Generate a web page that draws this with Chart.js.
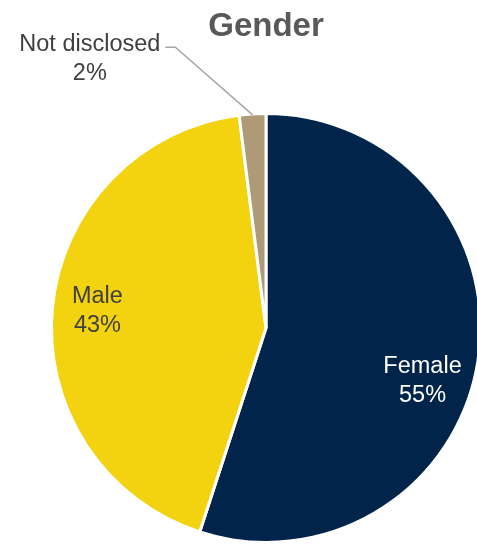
<!DOCTYPE html>
<html>
<head>
<meta charset="utf-8">
<title>Gender</title>
<script src="https://cdn.jsdelivr.net/npm/chart.js@4.4.1/dist/chart.umd.min.js"></script>
<style>
  html, body { margin: 0; padding: 0; background: #ffffff; overflow: hidden; }
  #wrap { position: absolute; left: 0; top: 0; width: 490px; height: 544px; }
</style>
</head>
<body>
<div id="wrap"><canvas id="chart"></canvas></div>
<script>
// Gender split of respondents (percent)
const chartTitle = 'Gender';
const categories = ['Female', 'Male', 'Not disclosed'];
const shares = [55, 43, 2];
const sliceColors = ['#00244A', '#F3D20F', '#AE9A76'];
const labelColors = ['#FFFFFF', '#404040', '#404040'];

// label anchor: distance as a fraction of the radius, angle nudge in degrees
const labelPlacement = [
  { dist: 0.77, turn: 9.6 },
  { dist: 0.79, turn: 0.4 },
  { dist: 1.50, turn: -29.6 }
];
const FONT = '"Liberation Sans", Arial, sans-serif';

const pieLabels = {
  id: 'pieLabels',
  afterDraw(chart) {
    const ctx = chart.ctx;
    const meta = chart.getDatasetMeta(0);
    ctx.save();

    // title
    ctx.font = 'bold 33px ' + FONT;
    ctx.fillStyle = '#595959';
    ctx.textAlign = 'center';
    ctx.textBaseline = 'middle';
    const cx0 = meta.data[0].x;
    ctx.fillText(chartTitle, cx0, 27);

    ctx.font = '23.5px ' + FONT;
    const lineGap = 29;
    meta.data.forEach((arc, i) => {
      const p = arc.getProps(['x', 'y', 'startAngle', 'endAngle', 'outerRadius'], true);
      const mid = (p.startAngle + p.endAngle) / 2;
      const a = mid + labelPlacement[i].turn * Math.PI / 180;
      const r = p.outerRadius * labelPlacement[i].dist;
      const lx = p.x + Math.cos(a) * r;
      const ly = p.y + Math.sin(a) * r;
      const text1 = categories[i];
      const text2 = shares[i] + '%';

      if (labelPlacement[i].dist > 1) {
        // leader line from the label to the slice edge
        const w = ctx.measureText(text1).width;
        const sx = lx + w / 2 + 5;
        const sy = ly - lineGap / 2 + 3;
        const ex = p.x + Math.cos(mid) * (p.outerRadius - 1);
        const ey = p.y + Math.sin(mid) * (p.outerRadius - 1);
        ctx.strokeStyle = '#A6A6A6';
        ctx.lineWidth = 1.5;
        ctx.beginPath();
        ctx.moveTo(sx, sy);
        ctx.lineTo(sx + 10, sy);
        ctx.lineTo(ex, ey);
        ctx.stroke();
      }

      ctx.fillStyle = labelColors[i];
      ctx.fillText(text1, lx, ly - lineGap / 2);
      ctx.fillText(text2, lx, ly + lineGap / 2);
    });
    ctx.restore();
  }
};

new Chart(document.getElementById('chart'), {
  type: 'pie',
  data: {
    labels: categories,
    datasets: [{
      data: shares,
      backgroundColor: sliceColors,
      borderColor: '#FFFFFF',
      borderWidth: 3
    }]
  },
  options: {
    responsive: true,
    maintainAspectRatio: false,
    animation: false,
    layout: { padding: { top: 112, bottom: 0, left: 50, right: 8 } },
    plugins: {
      legend: { display: false },
      tooltip: { enabled: false },
      title: { display: false }
    }
  },
  plugins: [pieLabels]
});
</script>
</body>
</html>
